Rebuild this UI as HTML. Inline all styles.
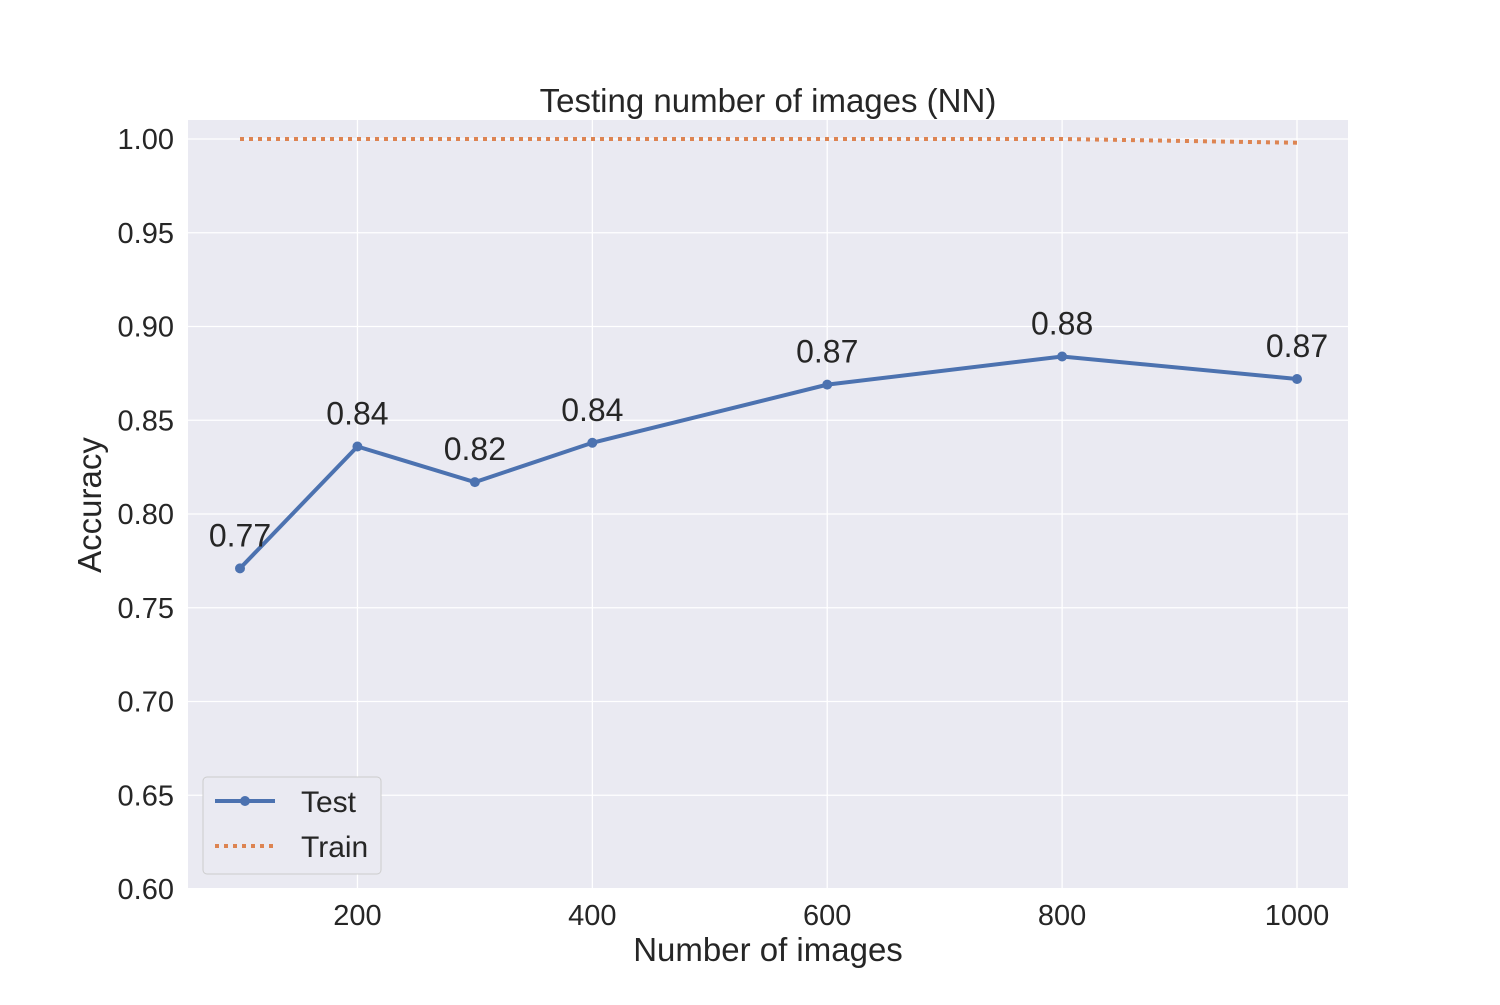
<!DOCTYPE html>
<html><head><meta charset="utf-8"><style>
body{margin:0;background:#fff;font-family:"Liberation Sans",Arial,sans-serif}
svg text{font-family:"Liberation Sans",Arial,sans-serif;fill:#262626}
</style></head><body>
<svg id="chart" width="1500" height="1000">
<rect x="188" y="120" width="1160" height="768" fill="#eaeaf2"/>
<g id="grid"></g><g id="series"></g><g id="labels"></g>
<text x="768" y="112" font-size="33" text-anchor="middle">Testing number of images (NN)</text>
<text x="768" y="961" font-size="33" text-anchor="middle">Number of images</text>
<text x="101" y="505" font-size="33" text-anchor="middle" transform="rotate(-90 101 505)">Accuracy</text>
<g>
<rect x="203" y="777" width="178" height="97" rx="4" fill="#eaeaf2" stroke="#ccc" stroke-width="1"/>
<line x1="215" y1="801" x2="275" y2="801" stroke="#4c72b0" stroke-width="4"/>
<circle cx="245" cy="801" r="5" fill="#4c72b0"/>
<text x="301" y="812" font-size="30">Test</text>
<line x1="215" y1="846" x2="275" y2="846" stroke="#dd8452" stroke-width="4" stroke-dasharray="4,5"/>
<text x="301" y="857" font-size="30">Train</text>
</g>
</svg>
<script>
const xs=[100,200,300,400,600,800,1000];
const testVals=[0.771,0.836,0.817,0.838,0.869,0.884,0.872];
const trainVals=[1.0,1.0,1.0,1.0,1.0,1.0,0.998];
const xTicks=[200,400,600,800,1000];
const yTicks=[0.60,0.65,0.70,0.75,0.80,0.85,0.90,0.95,1.00];
const NS="http://www.w3.org/2000/svg";
const X=v=>240+(v-100)*(1297-240)/900;
const Y=v=>139+(1.0-v)*(889-139)/0.4;
function mk(t,a,p){const e=document.createElementNS(NS,t);for(const k in a)e.setAttribute(k,a[k]);p.appendChild(e);return e;}
const g=document.getElementById('grid'),s=document.getElementById('series'),l=document.getElementById('labels');
xTicks.forEach(t=>{const ln=mk('line',{x1:X(t),x2:X(t),y1:120,y2:888,stroke:'#fff','stroke-width':1.3},g);


const tx=mk('text',{x:X(t),y:925,'font-size':29,'text-anchor':'middle'},g);tx.textContent=t;

});
yTicks.forEach(t=>{const ln=mk('line',{x1:188,x2:1348,y1:Y(t),y2:Y(t),stroke:'#fff','stroke-width':1.3},g);


const tx=mk('text',{x:174,y:Y(t)+10,'font-size':29,'text-anchor':'end'},g);tx.textContent=t.toFixed(2);

});
const tr=mk('polyline',{points:xs.map((x,i)=>X(x)+','+Y(trainVals[i])).join(' '),fill:'none',stroke:'#dd8452','stroke-width':4,'stroke-dasharray':'4,5'},s);


const te=mk('polyline',{points:xs.map((x,i)=>X(x)+','+Y(testVals[i])).join(' '),fill:'none',stroke:'#4c72b0','stroke-width':4},s);


xs.forEach((x,i)=>{const c=mk('circle',{cx:X(x),cy:Y(testVals[i]),r:5,fill:'#4c72b0'},s);


const tx=mk('text',{x:X(x),y:Y(testVals[i])-22,'font-size':32,'text-anchor':'middle'},l);tx.textContent=testVals[i].toFixed(2);

});
</script>
</body></html>
